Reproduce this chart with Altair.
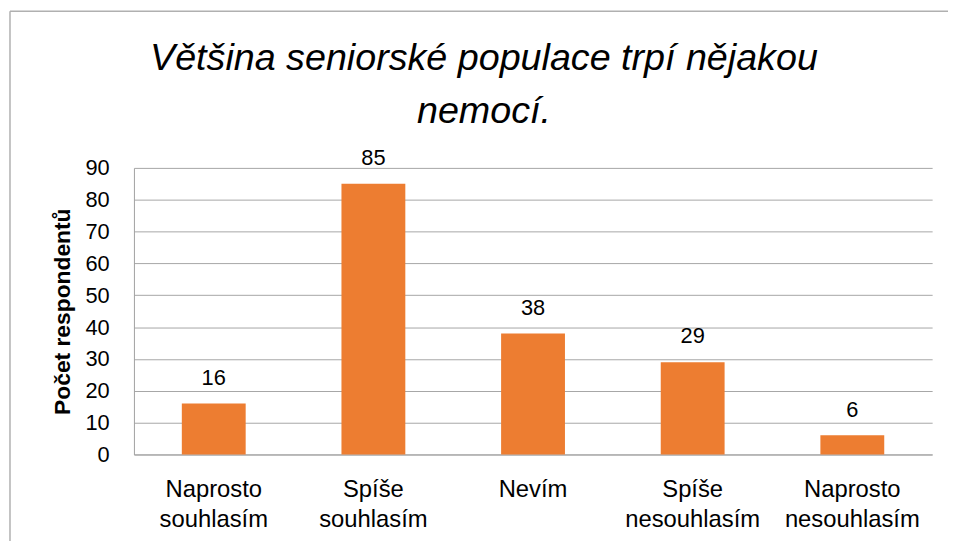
import altair as alt
import pandas as pd

title_lines = ["Většina seniorské populace trpí nějakou", "nemocí."]
categories = ["Naprosto souhlasím", "Spíše souhlasím", "Nevím", "Spíše nesouhlasím", "Naprosto nesouhlasím"]
values = [16, 85, 38, 29, 6]
y_ticks = [0, 10, 20, 30, 40, 50, 60, 70, 80, 90]

df = pd.DataFrame({"cat": categories, "val": values})
FONT = "Liberation Sans"

x = alt.X("cat:N", sort=categories, title=None,
          scale=alt.Scale(paddingInner=0.6, paddingOuter=0.3),
          axis=alt.Axis(labelExpr="split(datum.label, ' ')", labelAngle=0,
                        labelFontSize=24, labelColor="#000000", labelFont=FONT,
                        labelLineHeight=31, labelPadding=23, labelBaseline="top",
                        ticks=False, domain=True, domainColor="#a0a0a0", grid=False))
y = alt.Y("val:Q", title="Počet respondentů",
          scale=alt.Scale(domain=[0, 90], nice=False),
          axis=alt.Axis(values=y_ticks, labelOverlap=False, labelFontSize=22,
                        labelColor="#000000", labelFont=FONT,
                        labelPadding=25, ticks=False, domain=True, domainColor="#a0a0a0",
                        grid=True, gridColor="#a6a6a6", gridWidth=1,
                        titleFontSize=23, titleFontWeight="bold", titleFont=FONT,
                        titleColor="#000000", titlePadding=10))

bars = alt.Chart(df).mark_bar(color="#ED7D31").encode(x=x, y=y)
text = alt.Chart(df).mark_text(dy=-19, fontSize=22, font=FONT, color="#000000",
                               baseline="alphabetic").encode(x=x, y=y, text="val:Q")

t1 = alt.Chart(pd.DataFrame({"t": [title_lines[0]]})).mark_text(
    fontSize=38, font=FONT, fontStyle="italic", color="#000000", align="center",
    baseline="alphabetic").encode(x=alt.value(353), y=alt.value(-99), text="t:N")
t2 = alt.Chart(pd.DataFrame({"t": [title_lines[1]]})).mark_text(
    fontSize=38, font=FONT, fontStyle="italic", color="#000000", align="center",
    baseline="alphabetic").encode(x=alt.value(353), y=alt.value(-45), text="t:N")

border_top = alt.Chart(pd.DataFrame({"a": [0]})).mark_rule(color="#b0b0b0", strokeWidth=1.5).encode(
    x=alt.value(-125), x2=alt.value(830), y=alt.value(-158))
border_left = alt.Chart(pd.DataFrame({"a": [0]})).mark_rule(color="#b0b0b0", strokeWidth=1.5).encode(
    x=alt.value(-125), y=alt.value(-158), y2=alt.value(400))

chart = alt.layer(bars, text, t1, t2, border_top, border_left).properties(
    width=805, height=289,
    padding={"left": 127, "top": 159, "right": 16, "bottom": 85},
    autosize=alt.AutoSizeParams(type="none"),
).configure_view(stroke=None)

chart.save("out.html", embed_options={"renderer": "svg", "actions": False})
